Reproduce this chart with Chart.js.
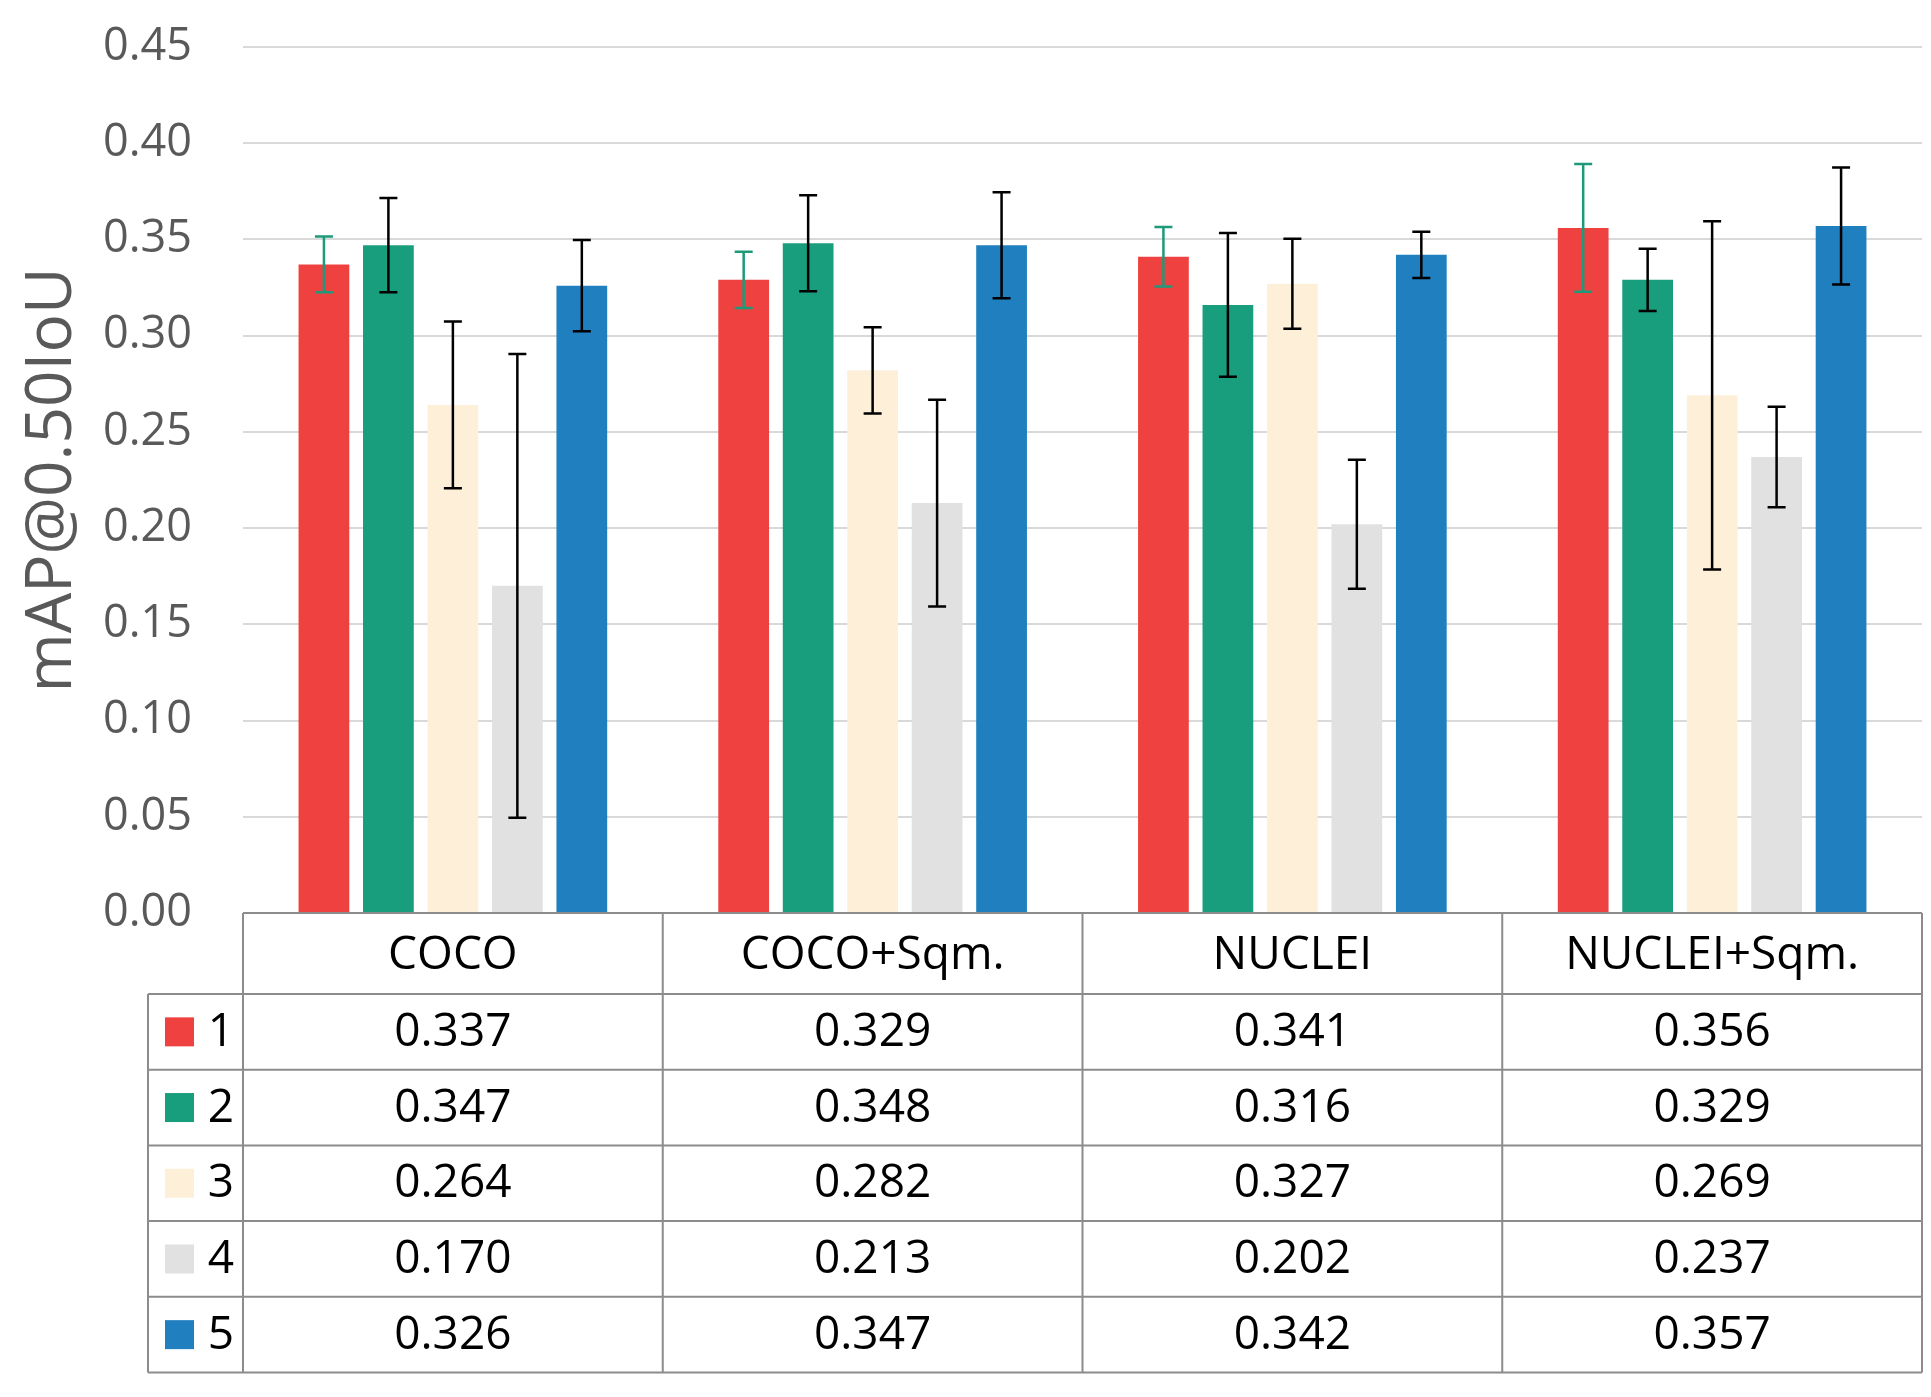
<!DOCTYPE html>
<html>
<head>
<meta charset="utf-8">
<script src="https://cdn.jsdelivr.net/npm/chart.js@4.4.0/dist/chart.umd.min.js"></script>
<style>
  html, body { margin: 0; padding: 0; background: #fff; }
  canvas { display: block; }
</style>
</head>
<body>
<canvas id="myChart" width="1931" height="1397"></canvas>
<script>
const categories = ['COCO', 'COCO+Sqm.', 'NUCLEI', 'NUCLEI+Sqm.'];
const seriesNames = ['1', '2', '3', '4', '5'];

const series1 = [0.337, 0.329, 0.341, 0.356];
const series2 = [0.347, 0.348, 0.316, 0.329];
const series3 = [0.264, 0.282, 0.327, 0.269];
const series4 = [0.170, 0.213, 0.202, 0.237];
const series5 = [0.326, 0.347, 0.342, 0.357];

// error bar half-lengths
const err1 = [0.0145, 0.0146, 0.0155, 0.0332];
const err2 = [0.0245, 0.0249, 0.0373, 0.0162];
const err3 = [0.0433, 0.0224, 0.0234, 0.0905];
const err4 = [0.1205, 0.0537, 0.0335, 0.0261];
const err5 = [0.0237, 0.0275, 0.0120, 0.0304];

const yMin = 0;
const yMax = 0.45;
const yStep = 0.05;

const colors = ['#EF4240', '#189E7D', '#FDEFD8', '#E0E1E0', '#1F7FBF'];
const errColors = ['#1E9A7A', '#000000', '#000000', '#000000', '#000000'];

const allSeries = [series1, series2, series3, series4, series5];
const allErrors = [err1, err2, err3, err4, err5];

const FONT = '"Open Sans", "Noto Sans", sans-serif';
const LINE = '#8C8C8C';

const errorBars = {
    id: 'errorBars',
    afterDatasetsDraw(chart) {
        const ctx = chart.ctx;
        const y = chart.scales.y;
        ctx.save();
        chart.data.datasets.forEach((ds, i) => {
            const meta = chart.getDatasetMeta(i);
            meta.data.forEach((bar, j) => {
                const v = ds.data[j];
                const e = ds.errors[j];
                const top = y.getPixelForValue(v + e);
                const bot = y.getPixelForValue(v - e);
                ctx.strokeStyle = ds.errorColor;
                ctx.lineWidth = 2.5;
                ctx.beginPath();
                ctx.moveTo(bar.x, top);
                ctx.lineTo(bar.x, bot);
                ctx.moveTo(bar.x - 9, top);
                ctx.lineTo(bar.x + 9, top);
                ctx.moveTo(bar.x - 9, bot);
                ctx.lineTo(bar.x + 9, bot);
                ctx.stroke();
            });
        });
        ctx.restore();
    }
};

const dataTable = {
    id: 'dataTable',
    afterDraw(chart) {
        const ctx = chart.ctx;
        const area = chart.chartArea;
        const x = chart.scales.x;
        const colW = (area.right - area.left) / categories.length;
        const headerH = 81;
        const rowH = 75.7;
        const legendLeft = 148;
        const top = area.bottom;
        const headerBottom = top + headerH;
        const tableBottom = headerBottom + rowH * seriesNames.length;

        ctx.save();
        ctx.strokeStyle = LINE;
        ctx.lineWidth = 2;
        ctx.beginPath();
        // top (axis) line
        ctx.moveTo(area.left, top);
        ctx.lineTo(area.right, top);
        // row lines
        for (let r = 0; r <= seriesNames.length; r++) {
            const yy = headerBottom + r * rowH;
            ctx.moveTo(legendLeft, yy);
            ctx.lineTo(area.right, yy);
        }
        // column lines
        for (let c = 0; c <= categories.length; c++) {
            const xx = area.left + c * colW;
            ctx.moveTo(xx, top);
            ctx.lineTo(xx, tableBottom);
        }
        ctx.moveTo(legendLeft, headerBottom);
        ctx.lineTo(legendLeft, tableBottom);
        ctx.stroke();

        ctx.fillStyle = '#000';
        ctx.font = '46px ' + FONT;
        ctx.textAlign = 'center';
        ctx.textBaseline = 'middle';
        categories.forEach((cat, c) => {
            ctx.fillText(cat, x.getPixelForValue(c), top + headerH / 2 + 2);
        });

        chart.data.datasets.forEach((ds, r) => {
            const cy = headerBottom + r * rowH + rowH / 2;
            ctx.fillStyle = ds.backgroundColor;
            ctx.fillRect(165, cy - 14.5, 29, 29);
            ctx.fillStyle = '#000';
            ctx.fillText(ds.label, 221, cy + 1);
            ds.data.forEach((v, c) => {
                ctx.fillText(v.toFixed(3), x.getPixelForValue(c), cy + 1);
            });
        });
        ctx.restore();
    }
};

const ctx = document.getElementById('myChart').getContext('2d');
new Chart(ctx, {
    type: 'bar',
    data: {
        labels: categories,
        datasets: seriesNames.map((name, i) => ({
            label: name,
            data: allSeries[i],
            errors: allErrors[i],
            errorColor: errColors[i],
            backgroundColor: colors[i],
            borderWidth: 0,
            categoryPercentage: 0.768,
            barPercentage: 0.787
        }))
    },
    options: {
        responsive: false,
        devicePixelRatio: 1,
        animation: false,
        layout: { padding: { left: 0, right: 9, top: 47, bottom: 484 } },
        plugins: {
            legend: { display: false },
            tooltip: { enabled: false }
        },
        scales: {
            x: { display: false, offset: true },
            y: {
                min: yMin,
                max: yMax,
                afterFit(scale) {
                    scale.width = 243;
                    // the big tick padding is horizontal only, keep it out of the vertical layout
                    scale.paddingTop = 0;
                    scale.paddingBottom = 0;
                },
                border: { display: false },
                grid: { color: '#D9D9D9', lineWidth: 2, drawTicks: false },
                ticks: {
                    stepSize: yStep,
                    padding: 51,
                    color: '#595959',
                    font: { family: FONT, size: 45 },
                    callback: (v) => v.toFixed(2)
                },
                title: {
                    display: true,
                    text: 'mAP@0.50IoU',
                    color: '#595959',
                    padding: { top: 14, bottom: 0 },
                    font: { family: FONT, size: 64 }
                }
            }
        }
    },
    plugins: [errorBars, dataTable]
});
</script>
</body>
</html>
